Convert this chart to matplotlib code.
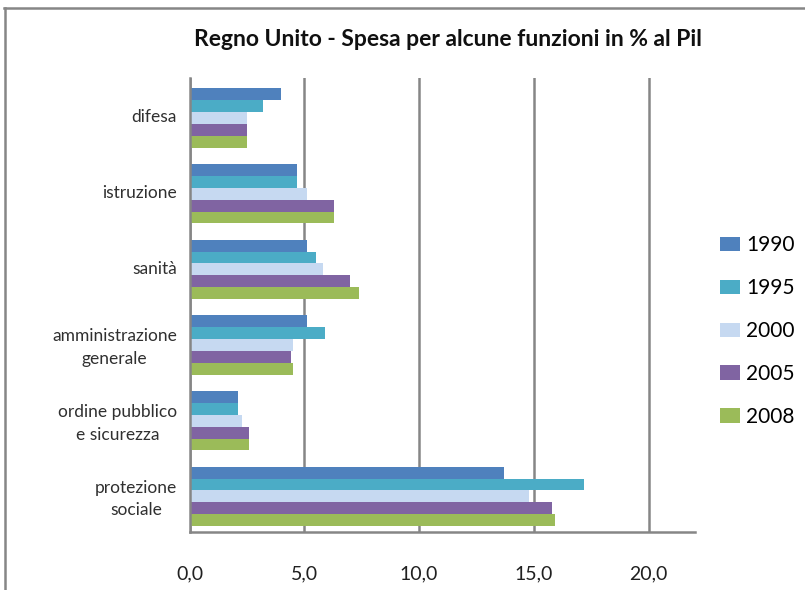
import numpy as np
import matplotlib.pyplot as plt
from matplotlib.lines import Line2D

# --- data ---
categories = ['difesa', 'istruzione', 'sanità', 'amministrazione\ngenerale',
              'ordine pubblico\ne sicurezza', 'protezione\nsociale']
years = ['1990', '1995', '2000', '2005', '2008']
v1990 = [4.0, 4.7, 5.1, 5.1, 2.1, 13.7]
v1995 = [3.2, 4.7, 5.5, 5.9, 2.1, 17.2]
v2000 = [2.5, 5.1, 5.8, 4.5, 2.3, 14.8]
v2005 = [2.5, 6.3, 7.0, 4.4, 2.6, 15.8]
v2008 = [2.5, 6.3, 7.4, 4.5, 2.6, 15.9]
colors = ['#4F81BD', '#4BACC6', '#C6D9F1', '#8064A2', '#9BBB59']
xticks = [0, 5, 10, 15, 20]
xticklabels = ['0,0', '5,0', '10,0', '15,0', '20,0']

plt.rcParams['font.family'] = ['Lato', 'DejaVu Sans']
grey = '#868686'
W, H = 805, 590

fig = plt.figure(figsize=(W / 100, H / 100), dpi=100)
ax = fig.add_axes([189.5 / W, 58 / H, (694.6 - 189.5) / W, 454 / H])

series = [v1990, v1995, v2000, v2005, v2008]
y = np.arange(len(categories))
bh = 0.157
for k, (vals, yr, c) in enumerate(zip(series, years, colors)):
    ax.barh(y + (k - 2) * bh + 0.03, vals, height=bh, color=c, label=yr, zorder=3)

ax.set_xlim(0, 22)
ax.set_ylim(len(categories) - 0.5, -0.5)
ax.set_xticks(xticks)
ax.set_xticklabels(xticklabels, fontsize=14, color='#202020')
ax.set_yticks(y)
ax.set_yticklabels(categories, fontsize=12.5, color='#303030',
                   ha='right', multialignment='center', linespacing=1.5)
ax.tick_params(axis='both', length=0)
ax.tick_params(axis='x', pad=24)
ax.tick_params(axis='y', pad=9)
ax.grid(axis='x', color=grey, lw=1.8, zorder=1)
ax.grid(axis='y', visible=False)
for s in ['top', 'right']:
    ax.spines[s].set_visible(False)
for s in ['left', 'bottom']:
    ax.spines[s].set_color(grey)
    ax.spines[s].set_linewidth(1.8)
    ax.spines[s].set_zorder(4)

fig.text(448 / W, 1 - 40 / H, 'Regno Unito - Spesa per alcune funzioni in % al Pil',
         ha='center', va='center', fontsize=16.5, fontweight='bold', color='#101010')

ax.legend(loc='center left', bbox_to_anchor=(720 / W, 1 - 331 / H),
          bbox_transform=fig.transFigure, frameon=False, fontsize=15,
          borderpad=0, borderaxespad=0, labelspacing=1.1,
          handlelength=0.95, handleheight=0.68, handletextpad=0.3)

# outer chart frame (only top and left edges are visible)
fig.add_artist(Line2D([4 / W, 1], [1 - 7.5 / H, 1 - 7.5 / H], color=grey, lw=1.8,
                      transform=fig.transFigure))
fig.add_artist(Line2D([5 / W, 5 / W], [0, 1 - 7.5 / H], color=grey, lw=1.8,
                      transform=fig.transFigure))

fig.savefig('out.png', dpi=100)
